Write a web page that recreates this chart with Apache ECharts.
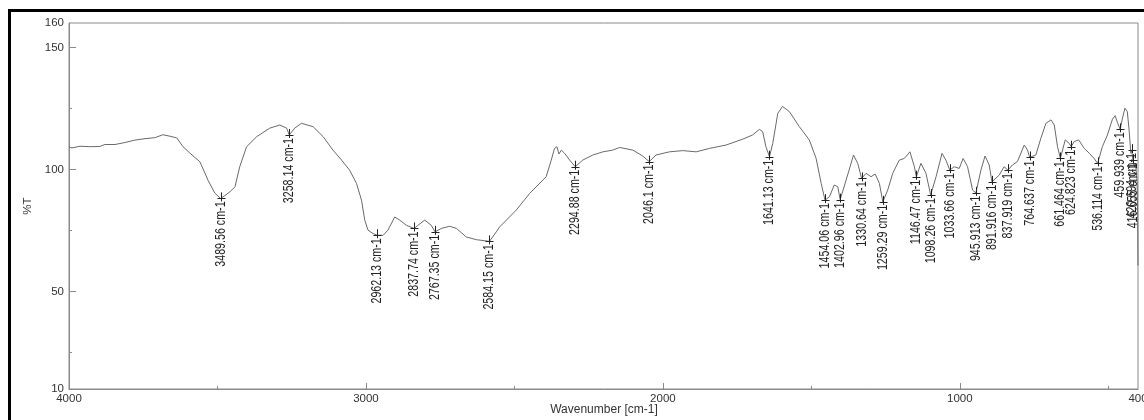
<!DOCTYPE html>
<html>
<head>
<meta charset="utf-8">
<script src="https://cdn.jsdelivr.net/npm/echarts@6/dist/echarts.min.js"></script>
<style>
  html, body { margin: 0; padding: 0; background: #fff; }
  #chart { width: 1144px; height: 420px; }
</style>
</head>
<body>
<div id="chart"></div>
<script>
// Spectrum (wavenumber in cm-1, %T)
const wavenumbers = [4000, 3990, 3963, 3929, 3896, 3879, 3845, 3812, 3778, 3744, 3711, 3684, 3660, 3637, 3616, 3593, 3559, 3532, 3509, 3489.56, 3475, 3458, 3441, 3425, 3402, 3368, 3324, 3290, 3267, 3258.14, 3240, 3217, 3178, 3144, 3111, 3082, 3055, 3032, 3015, 3004, 2993, 2976, 2962.13, 2942, 2926, 2903, 2886, 2864, 2837.74, 2825, 2802, 2780, 2767.35, 2746, 2718, 2695, 2662, 2628, 2584.15, 2561, 2550, 2494, 2449, 2393, 2376, 2365, 2357, 2350, 2342, 2331, 2314, 2294.88, 2270, 2236, 2202, 2169, 2146, 2101, 2068, 2046.1, 2023, 1978, 1933, 1888, 1843, 1787, 1731, 1698, 1675, 1664, 1653, 1641.13, 1630, 1613, 1597, 1574, 1541, 1507, 1484, 1467, 1454.06, 1439, 1423, 1411, 1402.96, 1383, 1358, 1344, 1330.64, 1316, 1299, 1285, 1271, 1259.29, 1243, 1226, 1204, 1187, 1168, 1153, 1146.47, 1131, 1114, 1098.26, 1080, 1060, 1047, 1033.66, 1019, 1002, 989, 974, 957, 945.913, 929, 915, 901, 891.916, 867, 851, 837.919, 823, 806, 783, 772, 764.637, 744, 727, 710, 693, 682, 671, 661.464, 645, 632, 624.823, 615, 600, 581, 564, 548, 536.114, 520, 503, 486, 477, 469, 459.939, 453, 444, 436, 430, 424, 421, 417, 412, 408, 403, 401, 400];
const transmittance = [109.2, 108.8, 109.5, 109.3, 109.4, 110.2, 110.2, 111.0, 112.0, 112.6, 113.0, 114.2, 113.6, 112.9, 109.3, 106.7, 103.1, 95.6, 90.3, 88.1, 89.3, 90.8, 92.9, 101.1, 109.3, 113.4, 116.9, 118.2, 116.9, 114.1, 116.9, 118.9, 117.5, 113.4, 107.9, 103.8, 99.7, 94.3, 87.4, 79.2, 75.1, 73.7, 73.0, 73.0, 75.1, 80.5, 79.2, 77.1, 75.8, 77.1, 79.2, 77.1, 74.4, 75.8, 76.7, 75.8, 72.3, 71.2, 70.5, 74.4, 76.4, 83.3, 90.1, 97.0, 103.8, 108.6, 109.3, 106.3, 107.9, 106.6, 103.8, 101.1, 103.8, 105.9, 107.2, 107.9, 109.0, 107.9, 105.5, 103.2, 105.9, 107.2, 107.7, 107.2, 108.6, 110.0, 112.4, 114.1, 116.4, 115.5, 109.3, 105.2, 110.7, 123.0, 125.8, 123.7, 117.6, 112.1, 104.5, 94.3, 87.4, 88.8, 93.6, 92.9, 87.6, 95.6, 105.9, 102.5, 96.3, 98.4, 97.0, 98.1, 94.3, 86.7, 91.5, 98.4, 103.8, 104.5, 107.2, 101.1, 97.0, 102.5, 98.4, 89.5, 97.0, 106.6, 103.8, 99.7, 101.1, 100.4, 104.5, 101.1, 91.5, 90.4, 99.7, 105.5, 101.8, 94.9, 97.7, 101.1, 99.7, 101.8, 103.2, 110.0, 107.9, 104.9, 105.9, 112.8, 118.9, 120.3, 118.2, 109.3, 104.5, 112.1, 110.7, 109.3, 111.4, 112.1, 108.6, 106.6, 104.5, 102.5, 109.3, 114.1, 120.6, 122.0, 119.1, 116.4, 120.6, 125.1, 123.7, 116.2, 106.6, 107.9, 103.8, 101.1, 102.5, 95.0, 80.0, 60.6];

// Peak annotations
const peakWavenumbers = [3489.56, 3258.14, 2962.13, 2837.74, 2767.35, 2584.15, 2294.88, 2046.1, 1641.13, 1454.06, 1402.96, 1330.64, 1259.29, 1146.47, 1098.26, 1033.66, 945.913, 891.916, 837.919, 764.637, 661.464, 624.823, 536.114, 459.939, 421, 417];
const peakValues = [88.1, 114.1, 73.0, 75.8, 74.4, 70.5, 101.1, 103.2, 105.2, 87.4, 87.6, 96.3, 86.7, 97.0, 89.5, 99.7, 90.4, 94.9, 99.7, 104.9, 104.5, 109.3, 102.5, 116.4, 107.9, 103.8];
const peakLabels = ['3489.56 cm-1', '3258.14 cm-1', '2962.13 cm-1', '2837.74 cm-1', '2767.35 cm-1', '2584.15 cm-1', '2294.88 cm-1', '2046.1 cm-1', '1641.13 cm-1', '1454.06 cm-1', '1402.96 cm-1', '1330.64 cm-1', '1259.29 cm-1', '1146.47 cm-1', '1098.26 cm-1', '1033.66 cm-1', '945.913 cm-1', '891.916 cm-1', '837.919 cm-1', '764.637 cm-1', '661.464 cm-1', '624.823 cm-1', '536.114 cm-1', '459.939 cm-1', '420.694 cm-1', '416.655 cm-1'];

// Axis ticks / labels
const xLabelValues = [4000, 3000, 2000, 1000, 400];
const xMajorTicks = [3000, 2000, 1000];
const xMinorTicks = [3500, 2500, 1500, 500];
const yLabelValues = [10, 50, 100, 150, 160];
const yMajorTicks = [50, 100, 150];
const yMinorTicks = [25, 75, 125];
const xAxisTitle = 'Wavenumber [cm-1]';

const lineData = wavenumbers.map((w, i) => [w, transmittance[i]]);
const peakData = peakWavenumbers.map((w, i) => [w, peakValues[i]]);

const axisColor = '#8a8a8a';
const textColor = '#333';
const labelFont = '11px "Liberation Sans", Arial, sans-serif';
const plain = v => String(v);

const chart = echarts.init(document.getElementById('chart'), null, { renderer: 'canvas' });
chart.setOption({
  animation: false,
  backgroundColor: '#fff',
  graphic: [{
    type: 'rect',
    shape: { x: 9.5, y: 10.5, width: 1160, height: 440 },
    style: { fill: 'none', stroke: '#000', lineWidth: 3 },
    silent: true, z: 100
  }, {
    type: 'text',
    x: 604, y: 410,
    style: { text: xAxisTitle, fill: textColor, align: 'center', verticalAlign: 'middle', font: '12px "Liberation Sans", Arial, sans-serif' },
    silent: true
  }],
  grid: {
    left: 69, right: 6, top: 23, bottom: 31,
    outerBoundsMode: 'none', containLabel: false,
    show: true, borderColor: axisColor, borderWidth: 1, backgroundColor: 'transparent'
  },
  xAxis: [{
    type: 'value', min: 400, max: 4000, inverse: true, position: 'bottom',
    axisLine: { show: true, lineStyle: { color: axisColor, width: 1 } },
    axisTick: { show: true, inside: true, length: 6, customValues: xMajorTicks, lineStyle: { color: axisColor } },
    axisLabel: { customValues: xLabelValues, formatter: plain, color: textColor, fontSize: 11.5, margin: 4, fontFamily: 'Liberation Sans, Arial' },
    splitLine: { show: false }
  }, {
    type: 'value', min: 400, max: 4000, inverse: true, position: 'bottom', offset: 0,
    axisLine: { show: false },
    axisTick: { show: true, inside: true, length: 3, customValues: xMinorTicks, lineStyle: { color: axisColor } },
    axisLabel: { show: false },
    splitLine: { show: false }
  }],
  yAxis: [{
    type: 'value', min: 10, max: 160, position: 'left',
    name: '%T', nameLocation: 'middle', nameGap: 34, nameRotate: 90,
    nameTextStyle: { color: textColor, fontSize: 11.5, fontFamily: 'Liberation Sans, Arial' },
    axisLine: { show: true, lineStyle: { color: axisColor, width: 1 } },
    axisTick: { show: true, inside: true, length: 7, customValues: yMajorTicks, lineStyle: { color: axisColor } },
    axisLabel: { customValues: yLabelValues, formatter: plain, color: textColor, fontSize: 11.5, margin: 5, fontFamily: 'Liberation Sans, Arial' },
    splitLine: { show: false }
  }, {
    type: 'value', min: 10, max: 160, position: 'left', offset: 0,
    axisLine: { show: false },
    axisTick: { show: true, inside: true, length: 3, customValues: yMinorTicks, lineStyle: { color: axisColor } },
    axisLabel: { show: false },
    splitLine: { show: false }
  }],
  series: [{
    type: 'line',
    data: lineData,
    showSymbol: false,
    smooth: false,
    lineStyle: { color: '#6a6a6a', width: 1 },
    z: 2
  }, {
    type: 'custom',
    data: peakData,
    encode: { x: 0, y: 1 },
    clip: false,
    renderItem: function (params, api) {
      const p = api.coord([api.value(0), api.value(1)]);
      const x = Math.round(p[0]) + 0.5;
      const y = p[1];
      return {
        type: 'group',
        children: [{
          type: 'line',
          shape: { x1: x, y1: y - 6, x2: x, y2: y + 3 },
          style: { stroke: '#222', lineWidth: 1 }
        }, {
          type: 'line',
          shape: { x1: x - 4, y1: Math.round(y) + 0.5, x2: x + 4, y2: Math.round(y) + 0.5 },
          style: { stroke: '#222', lineWidth: 1 }
        }, {
          type: 'text',
          x: x, y: y + 3,
          rotation: Math.PI / 2,
          scaleX: 0.97, scaleY: 1.3,
          style: {
            text: peakLabels[params.dataIndex],
            align: 'right', verticalAlign: 'middle',
            font: labelFont, fill: '#222'
          }
        }]
      };
    },
    z: 3
  }]
});
</script>
</body>
</html>
